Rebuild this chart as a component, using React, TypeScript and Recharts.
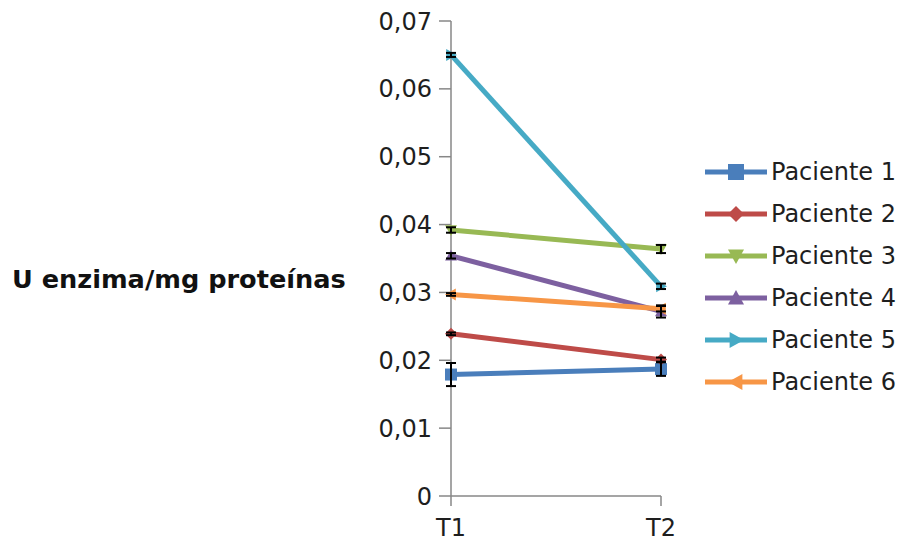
import { LineChart, Line, XAxis, YAxis, ErrorBar, Legend } from "recharts";

const periods = ["T1", "T2"];
const yTicks = [0, 0.01, 0.02, 0.03, 0.04, 0.05, 0.06, 0.07];

const patientNames = ["Paciente 1", "Paciente 2", "Paciente 3", "Paciente 4", "Paciente 5", "Paciente 6"];
const patientValues = [
  [0.0179, 0.0187],
  [0.0239, 0.0201],
  [0.0392, 0.0364],
  [0.0354, 0.0272],
  [0.065, 0.0309],
  [0.0297, 0.0276],
];
const patientErrors = [
  [0.0017, 0.001],
  [0.0002, 0.0003],
  [0.0004, 0.0006],
  [0.0004, 0.0009],
  [0.0003, 0.0004],
  [0.0002, 0.0004],
];

const colors = ["#4a7ebb", "#be4b48", "#98b954", "#7d60a0", "#46aac5", "#f79646"];
const markers = ["square", "diamond", "down", "up", "right", "left"];

const data = periods.map((t, i) => {
  const row: Record<string, string | number> = { t };
  patientNames.forEach((_, p) => {
    row["p" + p] = patientValues[p][i];
    row["e" + p] = patientErrors[p][i];
  });
  return row;
});

const FONT = "'DejaVu Sans', sans-serif";
const AXIS = "#878787";

function markerPath(kind: string, cx: number, cy: number, r: number) {
  switch (kind) {
    case "square":
      return `M${cx - r},${cy - r}h${2 * r}v${2 * r}h${-2 * r}Z`;
    case "diamond":
      return `M${cx},${cy - r}L${cx + r},${cy}L${cx},${cy + r}L${cx - r},${cy}Z`;
    case "down":
      return `M${cx - r},${cy - r * 0.8}L${cx + r},${cy - r * 0.8}L${cx},${cy + r}Z`;
    case "up":
      return `M${cx - r},${cy + r * 0.8}L${cx + r},${cy + r * 0.8}L${cx},${cy - r}Z`;
    case "right":
      return `M${cx - r * 0.8},${cy - r}L${cx + r},${cy}L${cx - r * 0.8},${cy + r}Z`;
    default:
      return `M${cx + r * 0.8},${cy - r}L${cx - r},${cy}L${cx + r * 0.8},${cy + r}Z`;
  }
}

const makeDot = (p: number) => (props: any) => {
  const { cx, cy, index } = props;
  if (cx == null || cy == null) return <g key={index} />;
  return <path key={index} d={markerPath(markers[p], cx, cy, 6)} fill={colors[p]} />;
};

const LegendContent = () => (
  <div style={{ fontFamily: FONT, fontSize: 24, color: "#1e1e1e" }}>
    {patientNames.map((name, p) => (
      <div key={name} style={{ display: "flex", alignItems: "center", height: 42 }}>
        <svg width={66} height={42} style={{ display: "block" }}>
          <line x1={0} y1={21} x2={62} y2={21} stroke={colors[p]} strokeWidth={5} />
          <path d={markerPath(markers[p], 31, 21, 8)} fill={colors[p]} />
        </svg>
        <span style={{ whiteSpace: "nowrap" }}>{name}</span>
      </div>
    ))}
  </div>
);

export default function App() {
  return (
    <LineChart
      width={894}
      height={534}
      data={data}
      margin={{ top: 13, right: 241, bottom: 2, left: 0 }}
      style={{ fontFamily: FONT }}
    >
      <XAxis
        dataKey="t"
        height={44}
        stroke={AXIS}
        strokeWidth={1.5}
        tickSize={10}
        tickMargin={13}
        tick={{ fill: "#1e1e1e", fontSize: 24 }}
      />
      <YAxis
        width={443}
        domain={[0, 0.07]}
        ticks={yTicks}
        stroke={AXIS}
        strokeWidth={1.5}
        tickSize={12}
        tickMargin={7}
        tick={{ fill: "#1e1e1e", fontSize: 24 }}
        tickFormatter={(v: number) => (v === 0 ? "0" : v.toFixed(2).replace(".", ","))}
        label={{
          value: "U enzima/mg proteínas",
          position: "insideLeft",
          offset: 4,
          dy: 20,
          fill: "#111",
          fontSize: 25.6,
          fontWeight: "bold",
        }}
      />
      <Legend
        layout="vertical"
        align="center"
        verticalAlign="middle"
        content={<LegendContent />}
        wrapperStyle={{ left: 697, top: 143, width: 200, height: 252 }}
      />
      {patientNames.map((name, p) => (
        <Line
          key={name}
          name={name}
          dataKey={"p" + p}
          stroke={colors[p]}
          strokeWidth={5}
          dot={makeDot(p)}
          activeDot={false}
          isAnimationActive={false}
        >
          <ErrorBar
            dataKey={"e" + p}
            width={5}
            stroke="#000"
            strokeWidth={2}
            direction="y"
            zIndex={1500}
          />
        </Line>
      ))}
    </LineChart>
  );
}
